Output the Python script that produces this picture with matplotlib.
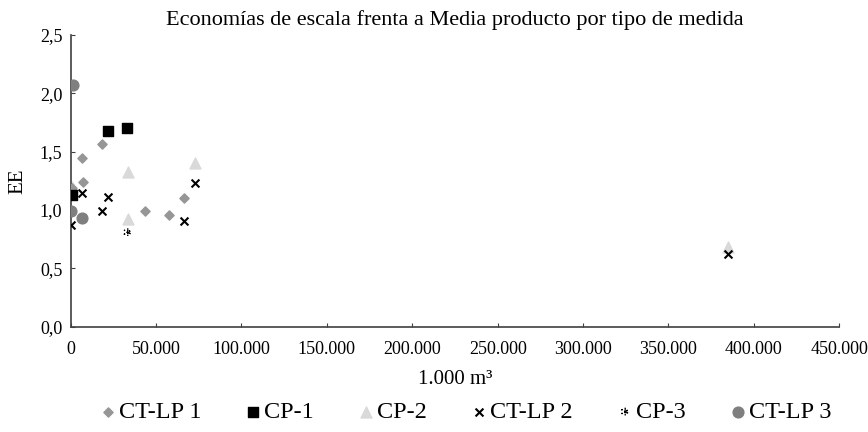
"""Economías de escala frente a Media producto por tipo de medida."""

import matplotlib

matplotlib.use("Agg")
import matplotlib.pyplot as plt

plt.rcParams["font.family"] = ["Liberation Serif", "DejaVu Serif"]

# data (x in 1.000 m3, y = EE)
ctlp1_x = [600, 6450, 7030, 18170, 43550, 57620, 66400]
ctlp1_y = [1.19, 1.45, 1.24, 1.57, 0.99, 0.96, 1.10]
cp1_x = [600, 21700, 33200]
cp1_y = [1.13, 1.68, 1.70]
cp2_x = [600, 33600, 33600, 72900, 385000]
cp2_y = [1.20, 1.33, 0.92, 1.40, 0.68]
ctlp2_x = [200, 6450, 18170, 21700, 66400, 72900, 385000]
ctlp2_y = [0.87, 1.15, 0.99, 1.11, 0.91, 1.23, 0.62]
cp3_x = [33400]
cp3_y = [0.81]
ctlp3_x = [1170, 200, 6800]
ctlp3_y = [2.07, 0.99, 0.93]

x_ticks = [0, 50000, 100000, 150000, 200000, 250000, 300000, 350000, 400000, 450000]
x_tick_labels = ["0", "50.000", "100.000", "150.000", "200.000", "250.000",
                 "300.000", "350.000", "400.000", "450.000"]
y_ticks = [0.0, 0.5, 1.0, 1.5, 2.0, 2.5]
y_tick_labels = ["0,0", "0,5", "1,0", "1,5", "2,0", "2,5"]

fig = plt.figure(figsize=(8.68, 4.32), dpi=100)
ax = fig.add_axes([70.7 / 868, 1 - 326.7 / 432, (839.3 - 70.7) / 868, (326.7 - 35) / 432])

ax.scatter(ctlp1_x, ctlp1_y, marker="D", s=22, color="#969696", label="CT-LP 1", zorder=3)
ax.scatter(cp1_x, cp1_y, marker="s", s=44, color="black", label="CP-1", zorder=3)
ax.scatter(cp2_x, cp2_y, marker="^", s=62, color="#d9d9d9", label="CP-2", zorder=2)
ax.scatter(ctlp2_x, ctlp2_y, marker="x", s=32, color="black", linewidths=1.5,
           label="CT-LP 2", zorder=4)
ax.scatter(cp3_x, cp3_y, marker=(6, 2, 0), s=32, color="black", linewidths=1.0,
           linestyle=":", label="CP-3", zorder=4)
ax.scatter(ctlp3_x, ctlp3_y, marker="o", s=60, color="#7f7f7f", label="CT-LP 3", zorder=3)

ax.set_xlim(0, 450000)
ax.set_ylim(0, 2.5)
ax.set_xticks(x_ticks)
ax.set_xticklabels(x_tick_labels)
ax.set_yticks(y_ticks)
ax.set_yticklabels(y_tick_labels)
ax.tick_params(direction="in", length=3, labelsize=13, color="#404040")
ax.tick_params(axis="x", pad=10)
ax.tick_params(axis="y", pad=6)
for side in ("top", "right"):
    ax.spines[side].set_visible(False)
for side in ("left", "bottom"):
    ax.spines[side].set_color("#404040")
    ax.spines[side].set_linewidth(1.2)

ax.set_title("Economías de escala frenta a Media producto por tipo de medida",
             fontsize=16, pad=7)
ax.set_xlabel("1.000 m³", fontsize=15, labelpad=9)
ax.set_ylabel("EE", fontsize=15, labelpad=9)

fig.legend(loc="center", bbox_to_anchor=(466 / 868, 1 - 412 / 432), ncol=6, frameon=False,
           fontsize=17.5, handlelength=0.6, handletextpad=0.15, columnspacing=1.85,
           borderpad=0.0)

fig.savefig("out.png", dpi=100)
